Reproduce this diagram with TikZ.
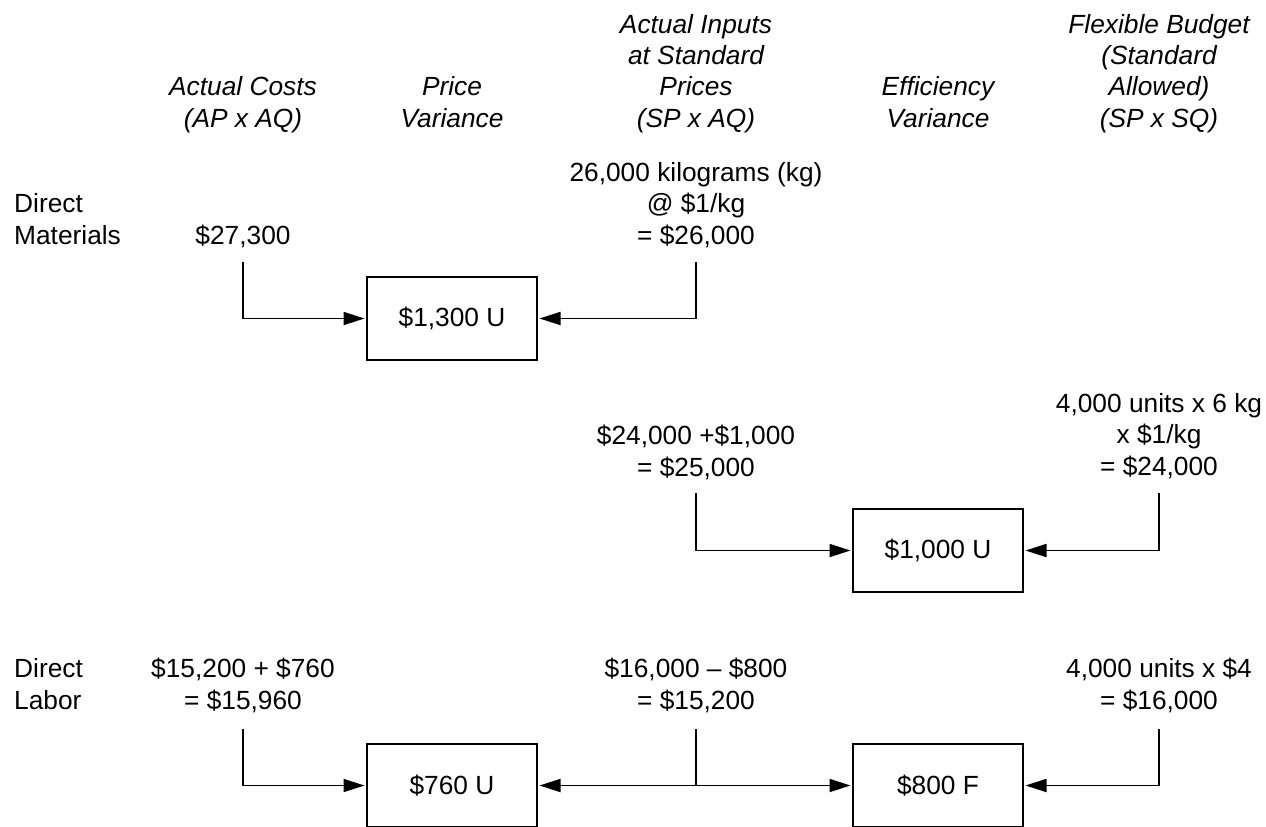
\documentclass[tikz,border=0pt]{standalone}
\usepackage{fontspec}
\setmainfont{Liberation Sans}
\usetikzlibrary{arrows.meta}
\begin{document}
\begin{tikzpicture}[x=1pt,y=-1pt,
  txt/.style={font=\fontsize{26.3}{31.2}\selectfont, inner sep=0pt, align=center, anchor=base},
  hdr/.style={txt, font=\fontsize{26.3}{31.2}\selectfont\itshape},
  rowlbl/.style={txt, align=left, anchor=base west},
  vbox/.style={draw, line width=1.8pt, minimum width=170pt, minimum height=83pt, inner sep=0pt, outer sep=2.5pt, font=\fontsize{26.3}{31.2}\selectfont},
  conn/.style={line width=1.8pt, -{Triangle[length=21pt,width=13pt]}},
  both/.style={line width=1.8pt, {Triangle[length=21pt,width=13pt]}-{Triangle[length=21pt,width=13pt]}},
  plain/.style={line width=1.8pt}
]
\useasboundingbox (0,0) rectangle (1266,827);

% headers (anchor = baseline of last line)
\node[hdr] (hAC) at (243,127) {Actual Costs\\(AP x AQ)};
\node[hdr] (hPV) at (452,127) {Price\\Variance};
\node[hdr] (hAI) at (696,127) {Actual Inputs\\at Standard\\Prices\\(SP x AQ)};
\node[hdr] (hEV) at (938,127) {Efficiency\\Variance};
\node[hdr] (hFB) at (1159,127) {Flexible Budget\\(Standard\\Allowed)\\(SP x SQ)};

% row labels
\node[rowlbl] (lDM) at (14,244) {Direct\\Materials};
\node[rowlbl] (lDL) at (14,709) {Direct\\Labor};

% values
\node[txt] (v1) at (243,244) {\$27,300};
\node[txt] (v2) at (696,244) {26,000 kilograms (kg)\\@ \$1/kg\\= \$26,000};
\node[txt] (v3) at (696,476) {\$24,000 +\$1,000\\= \$25,000};
\node[txt] (v4) at (1159,475) {4,000 units x 6 kg\\x \$1/kg\\= \$24,000};
\node[txt] (v5) at (243,709) {\$15,200 + \$760\\= \$15,960};
\node[txt] (v6) at (696,709) {\$16,000 \textendash{} \$800\\= \$15,200};
\node[txt] (v7) at (1159,709) {4,000 units x \$4\\= \$16,000};

% variance boxes
\node[vbox] (b1) at (452,318.5) {\$1,300 U};
\node[vbox] (b2) at (938,550.5) {\$1,000 U};
\node[vbox] (b3) at (452,785.5) {\$760 U};
\node[vbox] (b4) at (938,785.5) {\$800 F};

% connector start points
\coordinate (t1) at (243,262);
\coordinate (t2) at (696,262);
\coordinate (t3) at (696,493);
\coordinate (t4) at (1159,493);
\coordinate (t5) at (243,729);
\coordinate (t6) at (696,729);
\coordinate (t7) at (1159,729);

% connectors
\draw[conn] (t1) |- (b1.west);
\draw[conn] (t2) |- (b1.east);
\draw[conn] (t3) |- (b2.west);
\draw[conn] (t4) |- (b2.east);
\draw[conn] (t5) |- (b3.west);
\draw[both] (b3.east) -- (b4.west);
\draw[plain] (t6) -- (t6 |- b3.east);
\draw[conn] (t7) |- (b4.east);
\end{tikzpicture}
\end{document}
